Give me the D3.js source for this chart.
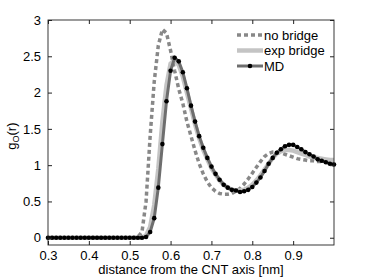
<!DOCTYPE html>
<html>
<head>
<meta charset="utf-8">
<script src="https://cdn.jsdelivr.net/npm/d3@7"></script>
<style>
  body { margin: 0; background: #fff; }
  svg { display: block; font-family: "Liberation Sans", Arial, sans-serif; }
</style>
</head>
<body>
<svg width="368" height="277"></svg>
<script>
// r grid [nm]
const rValues = [
  0.30, 0.31, 0.32, 0.33, 0.34, 0.35, 0.36, 0.37, 0.38, 0.39,
  0.40, 0.41, 0.42, 0.43, 0.44, 0.45, 0.46, 0.47, 0.48, 0.49,
  0.50, 0.51, 0.52, 0.53, 0.54, 0.55, 0.56, 0.57, 0.58, 0.59,
  0.60, 0.61, 0.62, 0.63, 0.64, 0.65, 0.66, 0.67, 0.68, 0.69,
  0.70, 0.71, 0.72, 0.73, 0.74, 0.75, 0.76, 0.77, 0.78, 0.79,
  0.80, 0.81, 0.82, 0.83, 0.84, 0.85, 0.86, 0.87, 0.88, 0.89,
  0.90, 0.91, 0.92, 0.93, 0.94, 0.95, 0.96, 0.97, 0.98, 0.99,
  1.00
]
const noBridge = [
  0, 0, 0, 0, 0, 0, 0, 0, 0, 0,
  0, 0, 0, 0, 0, 0, 0, 0, 0, 0,
  0, 0, 0.01, 0.08, 0.50, 1.40, 2.15, 2.65, 2.87, 2.82,
  2.58, 2.30, 2.05, 1.85, 1.60, 1.40, 1.20, 1.02, 0.88, 0.77,
  0.69, 0.64, 0.61, 0.60, 0.60, 0.61, 0.64, 0.68, 0.74, 0.81,
  0.89, 0.97, 1.05, 1.12, 1.16, 1.18, 1.18, 1.17, 1.15, 1.13,
  1.11, 1.09, 1.08, 1.07, 1.06, 1.06, 1.05, 1.05, 1.05, 1.05,
  1.05
]
const expBridge = [
  0, 0, 0, 0, 0, 0, 0, 0, 0, 0,
  0, 0, 0, 0, 0, 0, 0, 0, 0, 0,
  0, 0, 0, 0, 0.03, 0.15, 0.45, 0.95, 1.60, 2.10,
  2.40, 2.45, 2.38, 2.22, 2.00, 1.78, 1.56, 1.37, 1.21, 1.08,
  0.96, 0.87, 0.79, 0.73, 0.69, 0.66, 0.65, 0.65, 0.66, 0.69,
  0.73, 0.79, 0.86, 0.94, 1.02, 1.10, 1.16, 1.19, 1.21, 1.21,
  1.20, 1.18, 1.16, 1.14, 1.12, 1.11, 1.10, 1.09, 1.08, 1.07,
  1.07
]
const md = [
  0, 0, 0, 0, 0, 0, 0, 0, 0, 0,
  0, 0, 0, 0, 0, 0, 0, 0, 0, 0,
  0, 0, 0, 0, 0.01, 0.08, 0.27, 0.69, 1.29, 1.88,
  2.30, 2.48, 2.43, 2.28, 2.06, 1.82, 1.60, 1.40, 1.24, 1.10,
  0.98, 0.88, 0.80, 0.73, 0.69, 0.66, 0.65, 0.63, 0.64, 0.66,
  0.70, 0.76, 0.83, 0.92, 1.02, 1.10, 1.17, 1.22, 1.26, 1.28,
  1.28, 1.25, 1.22, 1.18, 1.15, 1.12, 1.08, 1.06, 1.04, 1.02,
  1.01
]
const xTicks = [0.3, 0.4, 0.5, 0.6, 0.7, 0.8, 0.9]
const yTicks = [0, 0.5, 1, 1.5, 2, 2.5, 3]
const legendLabels = ["no bridge", "exp bridge", "MD"]

const margin = {left: 48, right: 34, top: 20, bottom: 32}
const width = 368 - margin.left - margin.right
const height = 277 - margin.top - margin.bottom

const svg = d3.select('svg')
const g = svg.append('g')
    .attr('transform', `translate(${margin.left},${margin.top})`)

const x = d3.scaleLinear().domain([0.3, 1.0]).range([0, width])
const y = d3.scaleLinear().domain([-0.1, 3]).range([height, 0])

const line = d3.line()
    .x(d => x(d[0]))
    .y(d => y(d[1]))

const zip = vals => rValues.map((r, i) => [r, vals[i]])

// curves
g.append('path')
    .attr('d', line(zip(noBridge)))
    .attr('fill', 'none')
    .attr('stroke', '#888')
    .attr('stroke-width', 3.5)
    .attr('stroke-dasharray', '4,3')

g.append('path')
    .attr('d', line(zip(expBridge)))
    .attr('fill', 'none')
    .attr('stroke', '#c4c4c4')
    .attr('stroke-width', 4.5)

g.append('path')
    .attr('d', line(zip(md)))
    .attr('fill', 'none')
    .attr('stroke', '#6e6e6e')
    .attr('stroke-width', 3)

g.selectAll('.md-dot')
    .data(zip(md)).enter()
    .append('circle')
    .attr('class', 'md-dot')
    .attr('cx', d => x(d[0]))
    .attr('cy', d => y(d[1]))
    .attr('r', 2.3)
    .attr('fill', '#000')

// axes (matlab box with inward ticks)
const tickLen = 4
const axStyle = sel => {
    sel.select('.domain').remove()
    sel.selectAll('line').attr('stroke', '#222')
    sel.selectAll('text').attr('font-size', 13).attr('fill', '#000')
}
g.append('g')
    .attr('transform', `translate(0,${height})`)
    .call(d3.axisBottom(x).tickValues(xTicks).tickSizeInner(-tickLen).tickSizeOuter(0).tickPadding(6).tickFormat(d3.format('.1f')))
    .call(axStyle)
g.append('g')
    .call(d3.axisTop(x).tickValues(xTicks).tickSizeInner(-tickLen).tickSizeOuter(0).tickFormat(''))
    .call(axStyle)
g.append('g')
    .call(d3.axisLeft(y).tickValues(yTicks).tickSizeInner(-tickLen).tickSizeOuter(0).tickPadding(7).tickFormat(d => d3.format('')(d)))
    .call(axStyle)
g.append('g')
    .attr('transform', `translate(${width},0)`)
    .call(d3.axisRight(y).tickValues(yTicks).tickSizeInner(-tickLen).tickSizeOuter(0).tickFormat(''))
    .call(axStyle)

g.append('rect')
    .attr('x', 0).attr('y', 0)
    .attr('width', width).attr('height', height)
    .attr('fill', 'none')
    .attr('stroke', '#222')
    .attr('stroke-width', 0.9)

// labels
svg.append('text')
    .attr('x', margin.left + width / 2)
    .attr('y', 274)
    .attr('text-anchor', 'middle')
    .attr('font-size', 13)
    .text('distance from the CNT axis [nm]')

const yl = svg.append('text')
    .attr('transform', `translate(16,${margin.top + y(1.4)}) rotate(-90)`)
    .attr('text-anchor', 'middle')
    .attr('font-size', 13)
yl.append('tspan').text('g')
yl.append('tspan').attr('font-size', 9).attr('dy', 3).text('O')
yl.append('tspan').attr('dy', -3).text('(r)')

// legend
const legend = svg.append('g').attr('transform', 'translate(237,35)')
const legStyles = [
    {stroke: '#888', width: 3.5, dash: '4,3'},
    {stroke: '#c4c4c4', width: 4.5, dash: null},
    {stroke: '#6e6e6e', width: 3, dash: null}
]
const items = legend.selectAll('g')
    .data(legendLabels).enter()
    .append('g')
    .attr('transform', (d, i) => `translate(0,${i * 15.5})`)
items.append('line')
    .attr('x1', 0).attr('x2', 26)
    .attr('stroke', (d, i) => legStyles[i].stroke)
    .attr('stroke-width', (d, i) => legStyles[i].width)
    .attr('stroke-dasharray', (d, i) => legStyles[i].dash)
items.filter((d, i) => i === 2)
    .append('circle')
    .attr('cx', 13).attr('r', 2.3).attr('fill', '#000')
items.append('text')
    .attr('x', 27)
    .attr('dy', '0.35em')
    .attr('font-size', 13)
    .text(d => d)
</script>
</body>
</html>
